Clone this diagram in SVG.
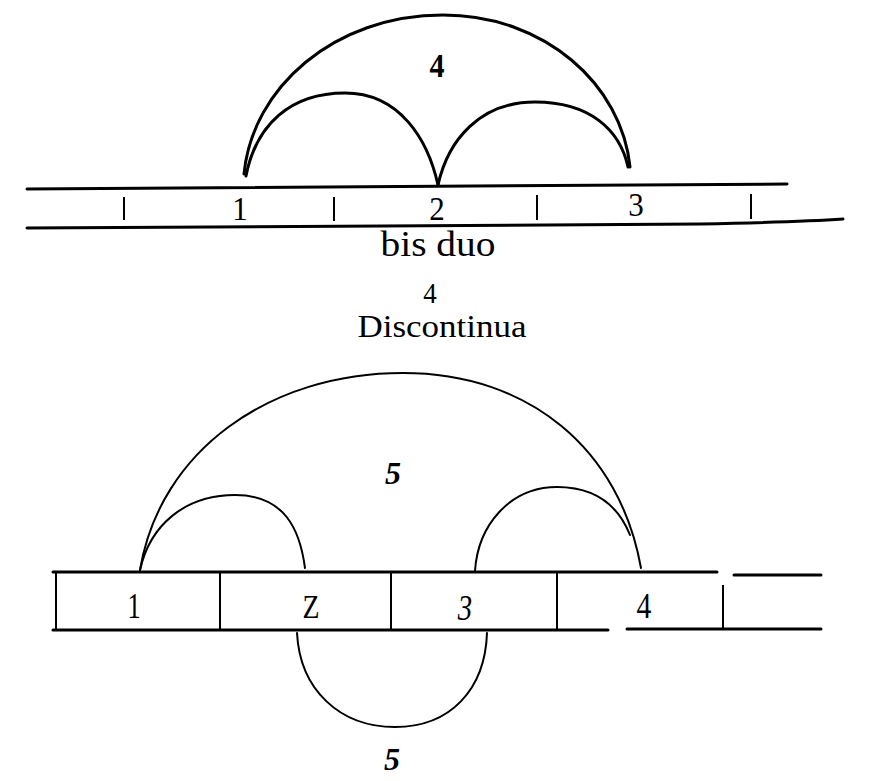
<svg xmlns="http://www.w3.org/2000/svg" width="878" height="781" viewBox="0 0 878 781">
<style>
.arc{fill:none;stroke:#000;stroke-linecap:round}
.rule{fill:none;stroke:#000;stroke-width:3;stroke-linecap:round}
.tick{stroke:#000;stroke-width:2}
.t{font-family:"Liberation Serif","DejaVu Serif",serif;fill:#000;text-anchor:middle}
.h{font-family:"Liberation Serif","DejaVu Serif",serif;fill:#000;text-anchor:middle}
</style>
<rect width="878" height="781" fill="#fff"/>
<g id="fig4">
  <g id="scale4">
    <path class="rule" d="M27,189 L787,184"/>
    <path class="rule" d="M27,228 L700,224 Q800,222 843,219"/>
    <line class="tick" x1="124" y1="197" x2="124" y2="220"/>
    <line class="tick" x1="334" y1="197" x2="334" y2="221"/>
    <line class="tick" x1="537" y1="195" x2="537" y2="220"/>
    <line class="tick" x1="751" y1="194" x2="751" y2="219"/>
  </g>
  <g id="n4-1"><text class="t" transform="translate(240,220) scale(1,1.1)" font-size="31">1</text></g>
  <g id="n4-2"><text class="t" transform="translate(437,220) scale(1,1.1)" font-size="31">2</text></g>
  <g id="n4-3"><text class="t" transform="translate(636,216) scale(1,1.1)" font-size="31">3</text></g>
  <g id="connectors4">
    <path class="arc" stroke-width="3" d="M244,174 C252,88 334,15 443,15 C545,15 622,85 630,167"/>
    <path class="arc" stroke-width="3" d="M246,176 C256,125 290,93 345,93 C400,93 428,140 438,185"/>
    <path class="arc" stroke-width="3" d="M438,185 C448,140 480,102 535,102 C590,102 620,130 628,167"/>
  </g>
  <text class="t" transform="translate(437,77) scale(1,1.15)" font-size="30" font-weight="bold">4</text>
  <text class="t" transform="translate(438,256) scale(1,1.25)" font-size="28" textLength="115" lengthAdjust="spacingAndGlyphs">bis duo</text>
  <text class="t" transform="translate(430,303) scale(1,1.1)" font-size="27">4</text>
  <text class="t" transform="translate(442,337) scale(1,1.2)" font-size="26" textLength="169" lengthAdjust="spacingAndGlyphs">Discontinua</text>
</g>
<g id="fig5">
  <g id="scale5">
    <path class="rule" stroke-width="2.5" d="M53,572 L717,572"/>
    <path class="rule" stroke-width="2.5" d="M734,575 L821,575"/>
    <path class="rule" stroke-width="2.5" d="M53,630 L608,630"/>
    <path class="rule" stroke-width="2.5" d="M627,629 L821,629"/>
    <line class="tick" x1="56" y1="572" x2="56" y2="630"/>
    <line class="tick" x1="220" y1="572" x2="220" y2="630"/>
    <line class="tick" x1="391" y1="572" x2="391" y2="630"/>
    <line class="tick" x1="557" y1="572" x2="557" y2="630"/>
    <line class="tick" x1="723" y1="585" x2="723" y2="628"/>
  </g>
  <g id="n5-1"><text class="h" transform="translate(134,618) scale(0.8,1.1)" font-size="33">1</text></g>
  <g id="n5-2"><text class="h" transform="translate(311,618) scale(0.9,1.1)" font-size="31">Z</text></g>
  <g id="n5-3"><text class="h" transform="translate(465,620) scale(0.9,1.1)" font-size="32" font-style="italic">3</text></g>
  <g id="n5-4"><text class="h" transform="translate(644,618) scale(0.9,1.1)" font-size="33">4</text></g>
  <g id="connectors5">
    <path class="arc" stroke-width="2" d="M140,570 C160,450 270,373 403,373 C530,373 620,450 641,568"/>
    <path class="arc" stroke-width="2" d="M140,570 C150,525 185,495 235,495 C285,495 300,530 305,568"/>
    <path class="arc" stroke-width="2" d="M475,571 C478,525 510,487 557,487 C595,487 618,505 630,535"/>
    <path class="arc" stroke-width="2" d="M297,633 C300,690 340,727 395,727 C450,727 485,690 487,633"/>
  </g>
  <text class="h" x="393" y="484" font-size="32" font-weight="bold" font-style="italic">5</text>
  <text class="h" x="392" y="770" font-size="32" font-weight="bold" font-style="italic">5</text>
</g>
</svg>
